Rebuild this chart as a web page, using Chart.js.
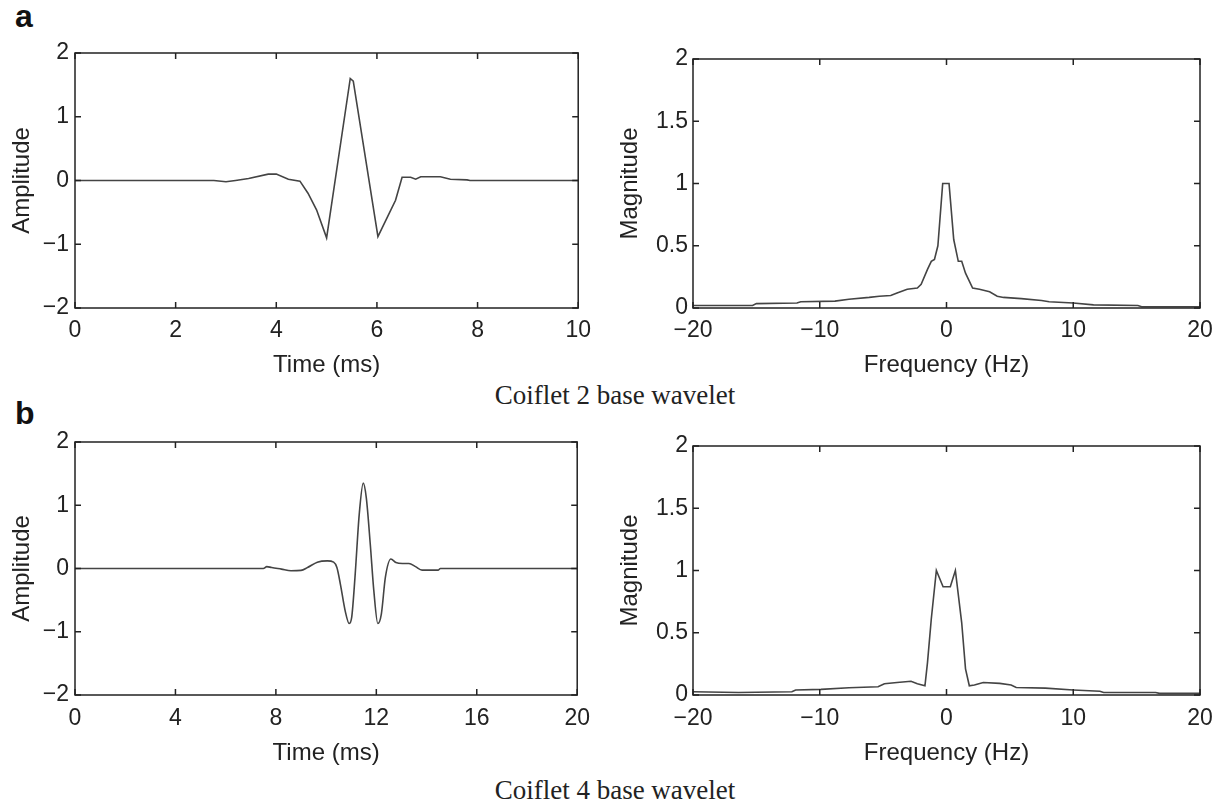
<!DOCTYPE html>
<html>
<head>
<meta charset="utf-8">
<script src="https://cdn.jsdelivr.net/npm/chart.js@4"></script>
<style>
  body { margin: 0; background: #fff; }
  #wrap { position: relative; width: 1228px; height: 803px; overflow: hidden; background: #fff; }
  canvas { position: absolute; }
  .tag { position: absolute; font: bold 32px "Liberation Sans", Arial, sans-serif; line-height: 32px; color: #111; }
  .caption { position: absolute; left: 0; width: 1230px; text-align: center; font: 27px "Liberation Serif", "Times New Roman", serif; line-height: 30px; color: #222; }
</style>
</head>
<body>
<div id="wrap">
  <div class="tag" style="left:15px;top:0px">a</div>
  <canvas id="a1" width="600" height="350" style="left:0;top:30px"></canvas>
  <canvas id="a2" width="618" height="350" style="left:610px;top:30px"></canvas>
  <div class="caption" style="top:380px">Coiflet 2 base wavelet</div>

  <div class="tag" style="left:15px;top:397px">b</div>
  <canvas id="b1" width="600" height="350" style="left:0;top:420px"></canvas>
  <canvas id="b2" width="618" height="350" style="left:610px;top:420px"></canvas>
  <div class="caption" style="top:775px">Coiflet 4 base wavelet</div>
</div>

<script>
// Coiflet 2 - forma de onda no tempo
const coif2Time = [0, 2.76, 3.0, 3.19, 3.45, 3.84, 4.0, 4.24, 4.47, 4.63, 4.8, 5.0, 5.47, 5.53, 6.02, 6.21, 6.37, 6.5, 6.67, 6.77, 6.87, 7.26, 7.46, 7.79, 7.85, 10];
const coif2Amp  = [0, 0, -0.02, 0, 0.03, 0.1, 0.1, 0.02, -0.01, -0.2, -0.46, -0.9, 1.6, 1.56, -0.88, -0.57, -0.31, 0.05, 0.05, 0.02, 0.06, 0.06, 0.02, 0.01, 0, 0];

// Coiflet 2 - espectro
const coif2Freq = [-20, -15.3, -15, -11.8, -11.5, -8.8, -7.7, -6.1, -5.3, -4.4, -3.9, -3.1, -2.3, -2.0, -1.5, -1.2, -0.95, -0.68, -0.3, 0.2, 0.57, 0.93, 1.2, 1.5, 2.06, 2.6, 3.4, 4.0, 4.5, 5.9, 7.5, 8.1, 10, 11.6, 15.1, 15.4, 20];
const coif2Mag  = [0.02, 0.02, 0.035, 0.04, 0.05, 0.055, 0.07, 0.085, 0.095, 0.1, 0.12, 0.15, 0.16, 0.19, 0.31, 0.375, 0.39, 0.5, 1.0, 1.0, 0.55, 0.375, 0.375, 0.28, 0.16, 0.15, 0.13, 0.095, 0.085, 0.075, 0.06, 0.05, 0.04, 0.025, 0.02, 0.01, 0.01];

// Coiflet 4 - forma de onda no tempo
const coif4Time = [0, 7.5, 7.64, 7.83, 8.22, 8.6, 9.0, 9.26, 9.65, 10.05, 10.3, 10.43, 10.57, 10.76, 10.92, 11.02, 11.15, 11.32, 11.48, 11.6, 11.76, 11.9, 12.06, 12.2, 12.36, 12.58, 12.78, 13.04, 13.3, 13.56, 13.82, 14.47, 14.55, 20];
const coif4Amp  = [0, 0, 0.03, 0.015, -0.01, -0.035, -0.03, 0.015, 0.1, 0.12, 0.1, 0.015, -0.25, -0.67, -0.87, -0.77, -0.14, 0.86, 1.35, 1.12, 0.38, -0.35, -0.87, -0.72, -0.14, 0.15, 0.095, 0.08, 0.08, 0.03, -0.025, -0.025, 0, 0];

// Coiflet 4 - espectro
const coif4Freq = [-20, -16.4, -12.2, -11.9, -9.9, -7.7, -5.4, -4.9, -3.9, -2.8, -2.3, -1.7, -1.5, -1.2, -0.8, -0.27, 0.3, 0.7, 1.2, 1.5, 1.8, 2.2, 2.9, 4.2, 5.1, 5.5, 7.8, 10, 12.1, 12.4, 16.5, 16.8, 20];
const coif4Mag  = [0.026, 0.02, 0.026, 0.04, 0.045, 0.058, 0.066, 0.09, 0.1, 0.11, 0.09, 0.074, 0.26, 0.61, 1.0, 0.87, 0.87, 1.0, 0.58, 0.21, 0.074, 0.08, 0.1, 0.093, 0.08, 0.06, 0.055, 0.04, 0.03, 0.02, 0.02, 0.013, 0.013];

Chart.defaults.font.family = '"Liberation Sans", Arial, sans-serif';
Chart.defaults.color = '#222';

// moldura com marcas para dentro (estilo MATLAB)
const boxTicks = {
    id: 'boxTicks',
    afterDraw(chart) {
        const ctx = chart.ctx;
        const a = chart.chartArea;
        const len = 6;
        ctx.save();
        ctx.strokeStyle = '#222';
        ctx.lineWidth = 1.5;
        ctx.strokeRect(a.left, a.top, a.right - a.left, a.bottom - a.top);
        ctx.beginPath();
        chart.scales.x.ticks.forEach(t => {
            const px = chart.scales.x.getPixelForValue(t.value);
            ctx.moveTo(px, a.bottom); ctx.lineTo(px, a.bottom - len);
            ctx.moveTo(px, a.top); ctx.lineTo(px, a.top + len);
        });
        chart.scales.y.ticks.forEach(t => {
            const py = chart.scales.y.getPixelForValue(t.value);
            ctx.moveTo(a.left, py); ctx.lineTo(a.left + len, py);
            ctx.moveTo(a.right, py); ctx.lineTo(a.right - len, py);
        });
        ctx.stroke();
        ctx.restore();
    }
};

function minus(v) {
    return String(v).replace('-', '\u2212');
}

function makePanel(id, cfg) {
    const points = cfg.xs.map((x, i) => ({ x: x, y: cfg.ys[i] }));
    new Chart(document.getElementById(id), {
        type: 'line',
        data: {
            datasets: [{
                data: points,
                borderColor: '#444',
                borderWidth: 1.6,
                pointRadius: 0,
                fill: false,
                tension: 0,
                cubicInterpolationMode: cfg.smooth ? 'monotone' : 'default'
            }]
        },
        options: {
            responsive: false,
            animation: false,
            layout: { padding: { top: cfg.padT, right: cfg.padR, left: 0, bottom: 0 } },
            plugins: { legend: { display: false }, tooltip: { enabled: false } },
            scales: {
                x: {
                    type: 'linear',
                    min: cfg.xMin, max: cfg.xMax,
                    ticks: { stepSize: cfg.xStep, padding: cfg.xTickPad, font: { size: 23 }, maxRotation: 0, autoSkip: false, callback: minus },
                    grid: { display: false, drawTicks: false },
                    border: { display: false },
                    title: { display: true, text: cfg.xTitle, font: { size: 24 }, padding: { top: 0, bottom: cfg.xTitlePad } },
                    afterFit: s => { s.height = cfg.xH; }
                },
                y: {
                    min: cfg.yMin, max: cfg.yMax,
                    ticks: { stepSize: cfg.yStep, padding: cfg.yTickPad, font: { size: 23 }, autoSkip: false, callback: minus },
                    grid: { display: false, drawTicks: false },
                    border: { display: false },
                    title: { display: true, text: cfg.yTitle, font: { size: 24 }, padding: { top: cfg.yTitlePad, bottom: 0 } },
                    afterFit: s => { s.width = cfg.yW; }
                }
            }
        },
        plugins: [boxTicks]
    });
}

makePanel('a1', {
    xs: coif2Time, ys: coif2Amp,
    xMin: 0, xMax: 10, xStep: 2, yMin: -2, yMax: 2, yStep: 1,
    xTitle: 'Time (ms)', yTitle: 'Amplitude',
    padT: 23, padR: 18, yW: 75, xH: 72,
    xTickPad: 9, xTitlePad: 0, yTickPad: 6, yTitlePad: 8
});
makePanel('a2', {
    xs: coif2Freq, ys: coif2Mag,
    xMin: -20, xMax: 20, xStep: 10, yMin: 0, yMax: 2, yStep: 0.5,
    xTitle: 'Frequency (Hz)', yTitle: 'Magnitude',
    padT: 29, padR: 28, yW: 83, xH: 72,
    xTickPad: 9, xTitlePad: 0, yTickPad: 5, yTitlePad: 6
});
makePanel('b1', {
    xs: coif4Time, ys: coif4Amp, smooth: true,
    xMin: 0, xMax: 20, xStep: 4, yMin: -2, yMax: 2, yStep: 1,
    xTitle: 'Time (ms)', yTitle: 'Amplitude',
    padT: 22, padR: 18, yW: 75, xH: 75,
    xTickPad: 10, xTitlePad: 2, yTickPad: 6, yTitlePad: 8
});
makePanel('b2', {
    xs: coif4Freq, ys: coif4Mag,
    xMin: -20, xMax: 20, xStep: 10, yMin: 0, yMax: 2, yStep: 0.5,
    xTitle: 'Frequency (Hz)', yTitle: 'Magnitude',
    padT: 26, padR: 28, yW: 83, xH: 75,
    xTickPad: 10, xTitlePad: 2, yTickPad: 5, yTitlePad: 6
});
</script>
</body>
</html>
